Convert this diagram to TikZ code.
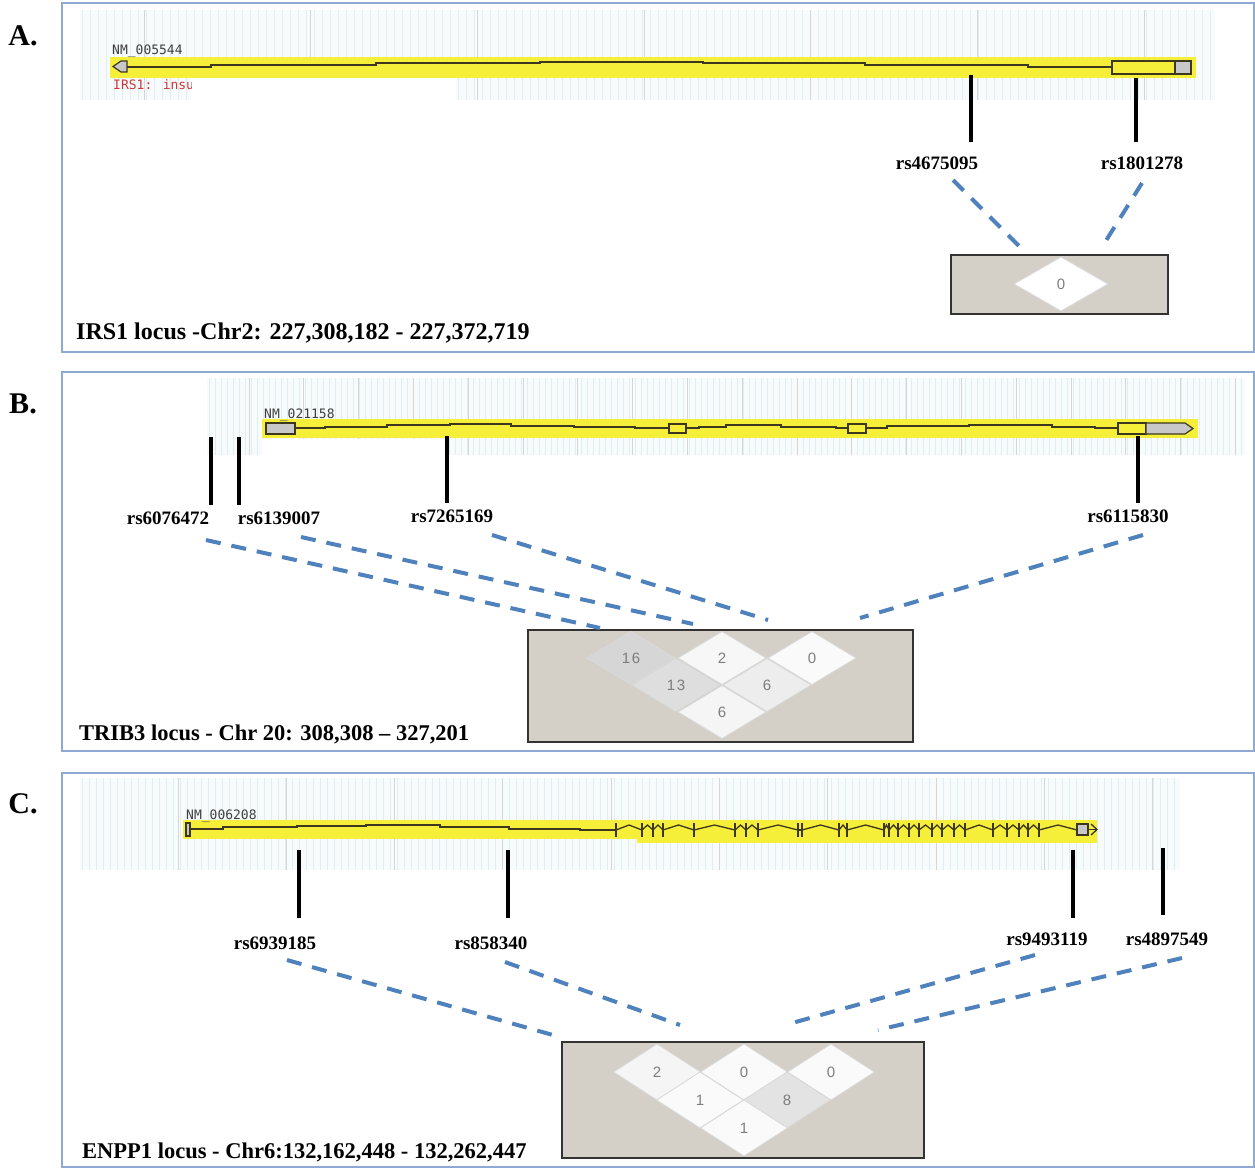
\documentclass[tikz,border=0pt]{standalone}
\usepackage{fontspec}
\setmainfont{Liberation Serif}
\newfontfamily\ucscfont{DejaVu Sans Mono}
\newfontfamily\ldfont[LetterSpace=12]{Liberation Sans}
\usetikzlibrary{calc}
\definecolor{panelblue}{RGB}{143,170,210}
\definecolor{hlyellow}{RGB}{246,239,58}
\definecolor{genecol}{RGB}{60,55,30}
\definecolor{ldblue}{RGB}{79,129,189}
\definecolor{boxbg}{RGB}{212,208,200}
\definecolor{minorcol}{RGB}{224,237,241}
\definecolor{majorcol}{RGB}{214,214,214}
\definecolor{gridbg}{RGB}{247,251,252}
\definecolor{utrgray}{RGB}{200,200,200}
\definecolor{redtxt}{RGB}{205,55,55}
\definecolor{numgray}{RGB}{125,125,125}
\tikzset{
 panel/.style={draw=panelblue, line width=1.5pt},
 snptick/.style={line width=4pt, draw=black},
 snplab/.style={font=\bfseries\fontsize{19}{19}\selectfont, inner sep=0pt, anchor=base},
 ldline/.style={draw=ldblue, line width=4pt, dash pattern=on 15pt off 11pt},
 titletxt/.style={font=\bfseries\fontsize{22.5}{22.5}\selectfont, anchor=base west, inner sep=0pt},
 letter/.style={font=\bfseries\fontsize{30}{30}\selectfont, inner sep=0pt},
 gene/.style={draw=genecol, line width=1.3pt},
 exonbox/.style={draw=genecol, line width=1.2pt},
 acc/.style={font=\ucscfont\fontsize{13}{13}\selectfont, text=black!75, anchor=base west, inner sep=0pt},
 ldbox/.style={fill=boxbg, draw=black!80, line width=1.2pt},
 ldnum/.style={font=\ldfont\fontsize{15}{15}\selectfont, text=numgray, inner sep=0pt},
 minor/.style={draw=minorcol, line width=0.7pt},
 major/.style={draw=majorcol, line width=1pt},
}
\newcommand{\ldcell}[7]{%
 \filldraw[fill=#2, draw=black!15, line width=0.8pt] (#3-#5,#4) -- (#3,#4-#6) -- (#3+#5,#4) -- (#3,#4+#6) -- cycle;
 \node[ldnum] (#1) at (#3,#4) {#7};}
\begin{document}
\begin{tikzpicture}[x=1pt,y=-1pt]
\useasboundingbox (0,0) rectangle (1255,1169);
\fill[white] (0,0) rectangle (1255,1169);

% ================= Panel A =================
\fill[gridbg] (80,10) rectangle (1215,100);
\foreach \x in {82,90,...,1214} \draw[minor] (\x,10) -- (\x,100);
\foreach \x in {144,310.7,...,1146} \draw[major] (\x,10) -- (\x,100);
\fill[white] (191,77) rectangle (456,103);
\fill[hlyellow] (110,57) rectangle (1196,78);
\draw[gene] (125,67) -- (211,67) -- (211,65) -- (376,65) -- (376,63) -- (540,63) -- (540,62) -- (703,62) -- (703,63) -- (865,63) -- (865,65) -- (1028,65) -- (1028,67) -- (1112,67);
\filldraw[fill=utrgray, draw=genecol, line width=1.2pt] (113,66.5) -- (121,61) -- (127,61) -- (127,72) -- (121,72) -- cycle;
\filldraw[exonbox, fill=hlyellow] (1112,61) rectangle (1175,74);
\filldraw[exonbox, fill=utrgray] (1175,61) rectangle (1191,74);
\node[acc] (accA) at (112,55) {NM\_005544};
\begin{scope}
 \clip (100,74) rectangle (191,96);
 \node[acc, text=redtxt] (descA) at (113,90) {IRS1: insulin};
\end{scope}
\draw[snptick] (971,75) -- (971,142);
\draw[snptick] (1136,78) -- (1136,142);
\node[snplab] (a1) at (937,170) {rs4675095};
\node[snplab] (a2) at (1142,170) {rs1801278};
\filldraw[ldbox] (951,255) rectangle (1168,314);
\ldcell{ca}{white}{1061}{284}{47}{27}{0}
\coordinate (a1s) at (953,180); \coordinate (a1e) at (1024,251);
\coordinate (a2s) at (1142,183); \coordinate (a2e) at (1102,247);
\draw[ldline] (a1s) -- (a1e);
\draw[ldline] (a2s) -- (a2e);
\node[titletxt, font=\bfseries\fontsize{24}{24}\selectfont] (tA) at (76,339) {IRS1 locus -Chr2: 227,308,182 - 227,372,719};
\node[letter] (lA) at (23,36) {A.};
\draw[panel] (62,3) rectangle (1254,352);

% ================= Panel B =================
\fill[gridbg] (207,378) rectangle (1245,455);
\foreach \x in {209,215,...,1244} \draw[minor] (\x,378) -- (\x,455);
\foreach \x in {249,303.8,...,1240} \draw[major] (\x,378) -- (\x,455);
\fill[white] (262,439) rectangle (444,457);
\fill[hlyellow] (262,419) rectangle (1198,438);
\draw[gene] (295,428) -- (325,428) -- (325,427) -- (387,427) -- (387,425) -- (450,425) -- (450,424) -- (511,424) -- (511,426) -- (574,426) -- (574,427) -- (635,427) -- (635,428) -- (669,428);
\draw[gene] (686,428) -- (699,428) -- (699,427) -- (726,427) -- (726,425) -- (781,425) -- (781,427) -- (836,427) -- (836,428) -- (848,428);
\draw[gene] (866,428) -- (887,428) -- (887,426) -- (969,426) -- (969,425) -- (1052,425) -- (1052,427) -- (1095,427) -- (1095,428) -- (1118,428);
\filldraw[exonbox, fill=utrgray] (266,423) rectangle (295,434);
\filldraw[exonbox, fill=hlyellow] (669,424) rectangle (686,433);
\filldraw[exonbox, fill=hlyellow] (848,424) rectangle (866,433);
\filldraw[exonbox, fill=hlyellow] (1118,423) rectangle (1146,434);
\filldraw[exonbox, fill=utrgray] (1146,423) -- (1185,423) -- (1193,428.5) -- (1185,434) -- (1146,434) -- cycle;
\node[acc] (accB) at (264,418) {NM\_021158};
\draw[snptick] (211,437) -- (211,505);
\draw[snptick] (239,437) -- (239,505);
\draw[snptick] (447,436) -- (447,503);
\draw[snptick] (1138,436) -- (1138,503);
\node[snplab] (b1) at (168,524) {rs6076472};
\node[snplab] (b2) at (279,524) {rs6139007};
\node[snplab] (b3) at (452,522) {rs7265169};
\node[snplab] (b4) at (1128,522) {rs6115830};
\filldraw[ldbox] (528,630) rectangle (913,742);
\ldcell{cb1}{black!16}{631}{658}{44}{26.5}{16}
\ldcell{cb2}{black!3}{722}{658}{44}{26.5}{2}
\ldcell{cb3}{black!2}{812}{658}{44}{26.5}{0}
\ldcell{cb4}{black!13}{676}{685}{44}{26.5}{13}
\ldcell{cb5}{black!7}{767}{685}{44}{26.5}{6}
\ldcell{cb6}{black!4}{722}{712}{44}{26.5}{6}
\coordinate (b1s) at (206,540); \coordinate (b1e) at (600,628);
\coordinate (b2s) at (301,537); \coordinate (b2e) at (693,624);
\coordinate (b3s) at (492,535); \coordinate (b3e) at (768,620);
\coordinate (b4s) at (1143,535); \coordinate (b4e) at (860,618);
\draw[ldline] (b1s) -- (b1e);
\draw[ldline] (b2s) -- (b2e);
\draw[ldline] (b3s) -- (b3e);
\draw[ldline] (b4s) -- (b4e);
\node[titletxt] (tB) at (79,740) {TRIB3 locus - Chr 20: 308,308 – 327,201};
\node[letter] (lB) at (23,404) {B.};
\draw[panel] (62,372) rectangle (1254,751);

% ================= Panel C =================
\fill[gridbg] (80,778) rectangle (1180,870);
\foreach \x in {82,89,...,1179} \draw[minor] (\x,778) -- (\x,870);
\foreach \x in {178,286.3,...,1160} \draw[major] (\x,778) -- (\x,870);
\fill[hlyellow] (183,820) rectangle (1097,839);
\fill[hlyellow] (637,838) rectangle (1097,843);
\draw[gene] (189,829) -- (223,829) -- (223,827) -- (297,827) -- (297,826) -- (366,826) -- (366,825) -- (440,825) -- (440,827) -- (509,827) -- (509,829) -- (580,829) -- (580,830) -- (616,830);
\filldraw[exonbox, fill=utrgray] (186,823) rectangle (190,836);
\foreach \a/\b in {616/642,642/653,653/663,663/694,694/735,735/746,746/758,758/798,802/839,839/847,847/884,884/889,889/898,898/909,909/919,919/932,932/942,942/954,954/965,965/993,993/1007,1007/1019,1019/1028,1028/1039,1039/1077}
  \draw[gene] (\a,830) -- ({(\a+\b)/2},825) -- (\b,830);
\draw[gene] (798,830) -- (802,830);
\foreach \x in {616,642,653,663,694,735,746,758,798,802,839,847,884,889,898,909,919,932,942,954,965,993,1007,1019,1028,1039}
  \draw[gene, line width=1.7pt] (\x,823) -- (\x,837);
\filldraw[exonbox, fill=utrgray] (1077,824) rectangle (1088,835);
\draw[gene] (1088,829.5) -- (1097,829.5);
\draw[gene] (1091,824) -- (1097,829.5) -- (1091,835);
\node[acc] (accC) at (186,819) {NM\_006208};
\draw[snptick] (299,850) -- (299,918);
\draw[snptick] (508,850) -- (508,918);
\draw[snptick] (1073,850) -- (1073,918);
\draw[snptick] (1163,848) -- (1163,915);
\node[snplab] (c1) at (275,949) {rs6939185};
\node[snplab] (c2) at (491,949) {rs858340};
\node[snplab] (c3) at (1047,945) {rs9493119};
\node[snplab] (c4) at (1167,945) {rs4897549};
\filldraw[ldbox] (562,1042) rectangle (924,1158);
\ldcell{cc1}{black!4}{657}{1072}{43.5}{28}{2}
\ldcell{cc2}{black!2}{744}{1072}{43.5}{28}{0}
\ldcell{cc3}{black!2}{831}{1072}{43.5}{28}{0}
\ldcell{cc4}{black!2}{700}{1100}{43.5}{28}{1}
\ldcell{cc5}{black!11}{787}{1100}{43.5}{28}{8}
\ldcell{cc6}{black!2}{744}{1128}{43.5}{28}{1}
\coordinate (c1s) at (287,960); \coordinate (c1e) at (560,1037);
\coordinate (c2s) at (505,962); \coordinate (c2e) at (680,1025);
\coordinate (c3s) at (1035,955); \coordinate (c3e) at (785,1025);
\coordinate (c4s) at (1182,958); \coordinate (c4e) at (878,1030);
\draw[ldline] (c1s) -- (c1e);
\draw[ldline] (c2s) -- (c2e);
\draw[ldline] (c3s) -- (c3e);
\draw[ldline] (c4s) -- (c4e);
\node[titletxt] (tC) at (82,1158) {ENPP1 locus - Chr6:132,162,448 - 132,262,447};
\node[letter] (lC) at (23,804) {C.};
\draw[panel] (62,773) rectangle (1254,1167);
\end{tikzpicture}
\end{document}
